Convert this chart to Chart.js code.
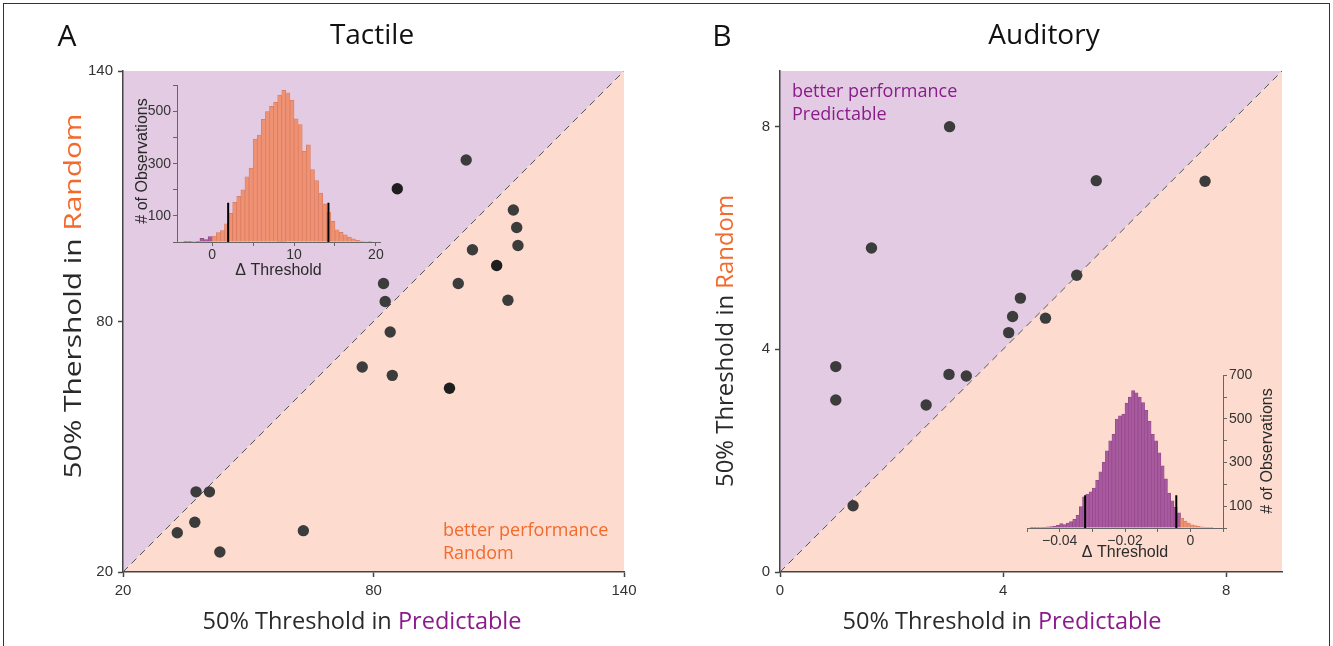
<!DOCTYPE html>
<html>
<head>
    <title>Tactile / Auditory thresholds</title>
    <script src="https://cdn.jsdelivr.net/npm/chart.js"></script>
    <style>
        body { margin: 0; background: #fff; width: 1333px; height: 646px; overflow: hidden; position: relative; }
        .frame { position: absolute; left: 3px; top: 3px; width: 1325px; height: 700px; border: 1px solid #333; }
        canvas { position: absolute; }
        #mainA { left: 0; top: 0; }
        #mainB { left: 666px; top: 0; }
        #insetA { left: 120px; top: 75px; }
        #insetB { left: 1010px; top: 365px; }
    </style>
</head>
<body>
    <div class="frame"></div>
    <canvas id="mainA" width="666" height="646"></canvas>
    <canvas id="mainB" width="667" height="646"></canvas>
    <canvas id="insetA" width="270" height="205"></canvas>
    <canvas id="insetB" width="310" height="225"></canvas>

    <script>
        // Datos: umbral 50% (Predecible vs Aleatorio)
        const tactilePredictable = [102.2, 85.7, 113.5, 114.3, 114.6, 103.7, 109.5, 82.4, 100.3, 82.8, 112.2, 84.0, 77.3, 84.5, 98.2, 37.5, 40.7, 37.2, 33.0, 63.2, 43.2];
        const tactileRandom      = [118.7, 111.8, 106.7, 102.5, 98.2, 97.2, 93.4, 89.1, 89.1, 84.8, 85.1, 77.5, 69.1, 67.1, 64.0, 39.2, 39.2, 31.9, 29.4, 29.9, 24.8];
        const tactileDark        = [false, true, false, false, false, false, true, false, false, false, false, false, false, false, true, false, false, false, false, false, false];

        const auditoryPredictable = [3.04, 5.67, 7.62, 1.64, 5.32, 4.31, 4.17, 4.76, 4.10, 1.00, 3.03, 3.34, 1.00, 2.62, 1.31];
        const auditoryRandom      = [8.00, 7.03, 7.02, 5.82, 5.33, 4.92, 4.59, 4.56, 4.30, 3.69, 3.55, 3.52, 3.09, 3.00, 1.19];

        // Histogramas (centros de bin y conteos)
        const histACenters = [-3.25, -2.75, -2.25, -1.75, -1.25, -0.75, -0.25, 0.25, 0.75, 1.25, 1.75, 2.25, 2.75, 3.25, 3.75, 4.25, 4.75, 5.25, 5.75, 6.25, 6.75, 7.25, 7.75, 8.25, 8.75, 9.25, 9.75, 10.25, 10.75, 11.25, 11.75, 12.25, 12.75, 13.25, 13.75, 14.25, 14.75, 15.25, 15.75, 16.25, 16.75, 17.25, 17.75, 18.25, 18.75, 19.25];
        const histACounts  = [1, 1, 2, 1, 14, 9, 21, 23, 36, 44, 70, 110, 152, 175, 200, 250, 283, 394, 410, 470, 500, 520, 535, 563, 581, 572, 544, 472, 450, 347, 372, 277, 235, 187, 146, 115, 79, 47, 37, 27, 19, 12, 6, 4, 2, 1];
        const ciA = [1.95, 14.2];

        const histBCenters = [-0.0455, -0.0445, -0.0435, -0.0425, -0.0415, -0.0405, -0.0395, -0.0385, -0.0375, -0.0365, -0.0355, -0.0345, -0.0335, -0.0325, -0.0315, -0.0305, -0.0295, -0.0285, -0.0275, -0.0265, -0.0255, -0.0245, -0.0235, -0.0225, -0.0215, -0.0205, -0.0195, -0.0185, -0.0175, -0.0165, -0.0155, -0.0145, -0.0135, -0.0125, -0.0115, -0.0105, -0.0095, -0.0085, -0.0075, -0.0065, -0.0055, -0.0045, -0.0035, -0.0025, -0.0015, -0.0005, 0.0005, 0.0015, 0.0025, 0.0035, 0.0045, 0.0055, 0.0065, 0.0075, 0.0085, 0.0095];
        const histBCounts  = [1, 1, 2, 2, 3, 5, 7, 9, 12, 20, 16, 22, 30, 40, 58, 98, 143, 155, 166, 183, 219, 258, 302, 354, 400, 430, 500, 515, 522, 573, 600, 630, 620, 600, 575, 540, 490, 430, 400, 345, 285, 225, 160, 125, 95, 70, 45, 32, 22, 15, 11, 8, 5, 3, 2, 1];
        const ciB = [-0.0292, -0.0013];
        const ciHeight = 150;

        const PURPLE_BG = '#e3cce3';
        const ORANGE_BG = '#fddccf';
        const PURPLE_TXT = '#8a1c8a';
        const ORANGE_TXT = '#f26a2c';
        const TXT = '#2a2a2a';
        const TITLE_FONT = '"Open Sans", sans-serif';
        const TICK_FONT = '"Liberation Sans", Arial, sans-serif';

        function zip(xs, ys) { return xs.map((x, i) => ({ x: x, y: ys[i] })); }

        // Texto en dos colores centrado; "len" estira el texto a un ancho dado
        function drawParts(ctx, parts, cx, cy, len) {
            ctx.textAlign = 'left';
            ctx.textBaseline = 'middle';
            const total = parts.reduce((w, p) => w + ctx.measureText(p[0]).width, 0);
            const k = len ? len / total : 1;
            ctx.save();
            ctx.translate(cx - total * k / 2, cy);
            ctx.scale(k, 1);
            let x = 0;
            parts.forEach(p => {
                ctx.fillStyle = p[1];
                ctx.fillText(p[0], x, 0);
                x += ctx.measureText(p[0]).width;
            });
            ctx.restore();
        }

        // Fondo de triángulos y textos del panel
        const panelDecor = {
            id: 'panelDecor',
            beforeDraw(chart, args, o) {
                const { ctx, scales: { x, y } } = chart;
                const x0 = x.getPixelForValue(x.min), x1 = x.getPixelForValue(x.max);
                const y0 = y.getPixelForValue(y.min), y1 = y.getPixelForValue(y.max);
                ctx.save();
                ctx.fillStyle = PURPLE_BG;
                ctx.beginPath(); ctx.moveTo(x0, y0); ctx.lineTo(x1, y1); ctx.lineTo(x0, y1); ctx.closePath(); ctx.fill();
                ctx.fillStyle = ORANGE_BG;
                ctx.beginPath(); ctx.moveTo(x0, y0); ctx.lineTo(x1, y1); ctx.lineTo(x1, y0); ctx.closePath(); ctx.fill();
                ctx.restore();
            },
            afterDraw(chart, args, o) {
                const ctx = chart.ctx;
                ctx.save();
                ctx.fillStyle = '#111';
                ctx.textAlign = 'center';
                ctx.textBaseline = 'middle';
                ctx.font = '30px ' + TITLE_FONT;
                ctx.fillText(o.letter, o.letterX, 37);
                ctx.font = '28px ' + TITLE_FONT;
                ctx.fillText(o.title, o.titleX, 36);

                ctx.font = '23px ' + TITLE_FONT;
                drawParts(ctx, [['50% Threshold in ', TXT], ['Predictable', PURPLE_TXT]], o.xTitleX, 622, 319);
                ctx.save();
                ctx.translate(o.yTitleX, o.yTitleY);
                ctx.rotate(-Math.PI / 2);
                drawParts(ctx, [[o.yText, TXT], ['Random', ORANGE_TXT]], 0, 0, o.yLen);
                ctx.restore();

                ctx.font = '18px ' + TITLE_FONT;
                ctx.fillStyle = o.noteColor;
                ctx.textAlign = 'left';
                ctx.fillText('better performance', o.noteX, o.noteY);
                ctx.fillText(o.note2, o.noteX, o.noteY + 23);
                ctx.restore();
            }
        };

        function mainScale(min, max, step, fit) {
            return {
                type: 'linear', min: min, max: max,
                ticks: { stepSize: step, includeBounds: false, color: '#333', font: { family: TICK_FONT, size: 15 }, padding: 5, maxRotation: 0 },
                grid: { display: true, drawOnChartArea: false, tickLength: 5, tickColor: '#444', tickWidth: 1.5 },
                border: { color: '#444', width: 1.5 },
                afterFit: fit
            };
        }

        function mainChart(id, px, py, dark, lo, hi, step, yFit, padRight, decor) {
            return new Chart(document.getElementById(id), {
                type: 'scatter',
                data: {
                    datasets: [
                        {
                            data: zip(px, py),
                            pointRadius: 5.7,
                            pointBackgroundColor: dark.map(d => d ? '#1e1e1e' : '#3c3c3c'),
                            pointBorderWidth: 0
                        },
                        {
                            type: 'line',
                            data: zip([lo, hi], [lo, hi]),
                            borderColor: '#555',
                            borderWidth: 1,
                            borderDash: [7, 5],
                            pointRadius: 0
                        }
                    ]
                },
                options: {
                    responsive: false,
                    animation: false,
                    layout: { padding: { left: 0, top: 71, right: padRight, bottom: 0 } },
                    scales: {
                        x: mainScale(lo, hi, step, s => { s.height = 74; }),
                        y: mainScale(lo, hi, step, yFit)
                    },
                    plugins: { legend: { display: false }, tooltip: { enabled: false }, panelDecor: decor }
                },
                plugins: [panelDecor]
            });
        }

        mainChart('mainA', tactilePredictable, tactileRandom, tactileDark, 20, 140, 60, s => { s.width = 123; }, 42, {
            letter: 'A', letterX: 67, title: 'Tactile', titleX: 372,
            xTitleX: 362, yTitleX: 74, yTitleY: 296, yText: '50% Thershold in ', yLen: 365,
            noteColor: ORANGE_TXT, noteX: 443, noteY: 531, note2: 'Random'
        });
        mainChart('mainB', auditoryPredictable, auditoryRandom, auditoryPredictable.map(() => false), 0, 9, 4, s => { s.width = 114; }, 51, {
            letter: 'B', letterX: 56, title: 'Auditory', titleX: 378,
            xTitleX: 336, yTitleX: 60, yTitleY: 341, yText: '50% Threshold in ', yLen: 292,
            noteColor: PURPLE_TXT, noteX: 126, noteY: 92, note2: 'Predictable'
        });

        // Histogramas insertados
        const insetTitle = {
            id: 'insetTitle',
            afterDraw(chart, args, o) {
                const ctx = chart.ctx;
                ctx.save();
                ctx.font = '16px ' + TICK_FONT;
                ctx.translate(o.x, o.y);
                ctx.rotate(-Math.PI / 2);
                drawParts(ctx, [['# of Observations', TXT]], 0, 0);
                ctx.restore();
            }
        };

        function insetChart(id, centers, counts, ci, xOpts, yOpts, pad, titleOpts) {
            const lineSets = ci.map(v => ({
                type: 'line',
                data: zip([v, v], [0, ciHeight]),
                borderColor: '#000',
                borderWidth: 2,
                pointRadius: 0
            }));
            const tickFont = { family: TICK_FONT, size: 14 };
            return new Chart(document.getElementById(id), {
                type: 'bar',
                data: {
                    datasets: lineSets.concat([{
                        data: zip(centers, counts),
                        backgroundColor: centers.map(c => c < 0 ? '#a9599f' : '#ef9173'),
                        borderColor: centers.map(c => c < 0 ? '#8f4787' : '#d97a5f'),
                        borderWidth: 0.7,
                        barPercentage: 1,
                        categoryPercentage: 1
                    }])
                },
                options: {
                    responsive: false,
                    animation: false,
                    layout: { padding: pad },
                    scales: {
                        x: Object.assign({
                            type: 'linear',
                            offset: false,
                            ticks: Object.assign({ includeBounds: false, autoSkip: false, maxRotation: 0, color: '#333', font: tickFont, padding: 1 }, xOpts.ticks),
                            grid: { drawOnChartArea: false, offset: false, tickLength: 4, tickColor: '#666' },
                            border: { color: '#666', width: 1 },
                            title: { display: true, text: '\u0394 Threshold', color: TXT, font: { family: TICK_FONT, size: 16 }, padding: 0 }
                        }, xOpts.scale),
                        y: Object.assign({
                            type: 'linear',
                            ticks: Object.assign({ autoSkip: false, color: '#333', font: tickFont, padding: 2 }, yOpts.ticks),
                            grid: { drawOnChartArea: false, tickLength: 4, tickColor: '#666' },
                            border: { color: '#666', width: 1 }
                        }, yOpts.scale)
                    },
                    plugins: { legend: { display: false }, tooltip: { enabled: false }, insetTitle: titleOpts }
                },
                plugins: [insetTitle]
            });
        }

        insetChart('insetA', histACenters, histACounts, ciA,
            {
                scale: { min: -4.3, max: 20.5, afterFit: s => { s.height = 38; } },
                ticks: { stepSize: 5, callback: v => (v % 10 === 0 ? String(v) : '') }
            },
            {
                scale: { min: 0, max: 600, afterFit: s => { s.width = 57; } },
                ticks: { stepSize: 100, callback: v => ([100, 300, 500].includes(v) ? String(v) : '') }
            },
            { left: 0, top: 7, right: 10, bottom: 0 },
            { x: 23, y: 86 }
        );

        insetChart('insetB', histBCenters, histBCounts, ciB,
            {
                scale: { min: -0.047, max: 0.013, afterFit: s => { s.height = 34; } },
                ticks: {
                    stepSize: 0.01,
                    callback: v => {
                        const k = Math.round(v * 100);
                        if (k % 2 !== 0) return '';
                        return k === 0 ? '0' : '\u2212' + Math.abs(k / 100).toFixed(2);
                    }
                }
            },
            {
                scale: { position: 'right', min: 0, max: 700, afterFit: s => { s.width = 97; } },
                ticks: { stepSize: 100, callback: v => ([100, 300, 500, 700].includes(v) ? String(v) : '') }
            },
            { left: 17, top: 9, right: 0, bottom: 28 },
            { x: 258, y: 86 }
        );
    </script>
</body>
</html>
